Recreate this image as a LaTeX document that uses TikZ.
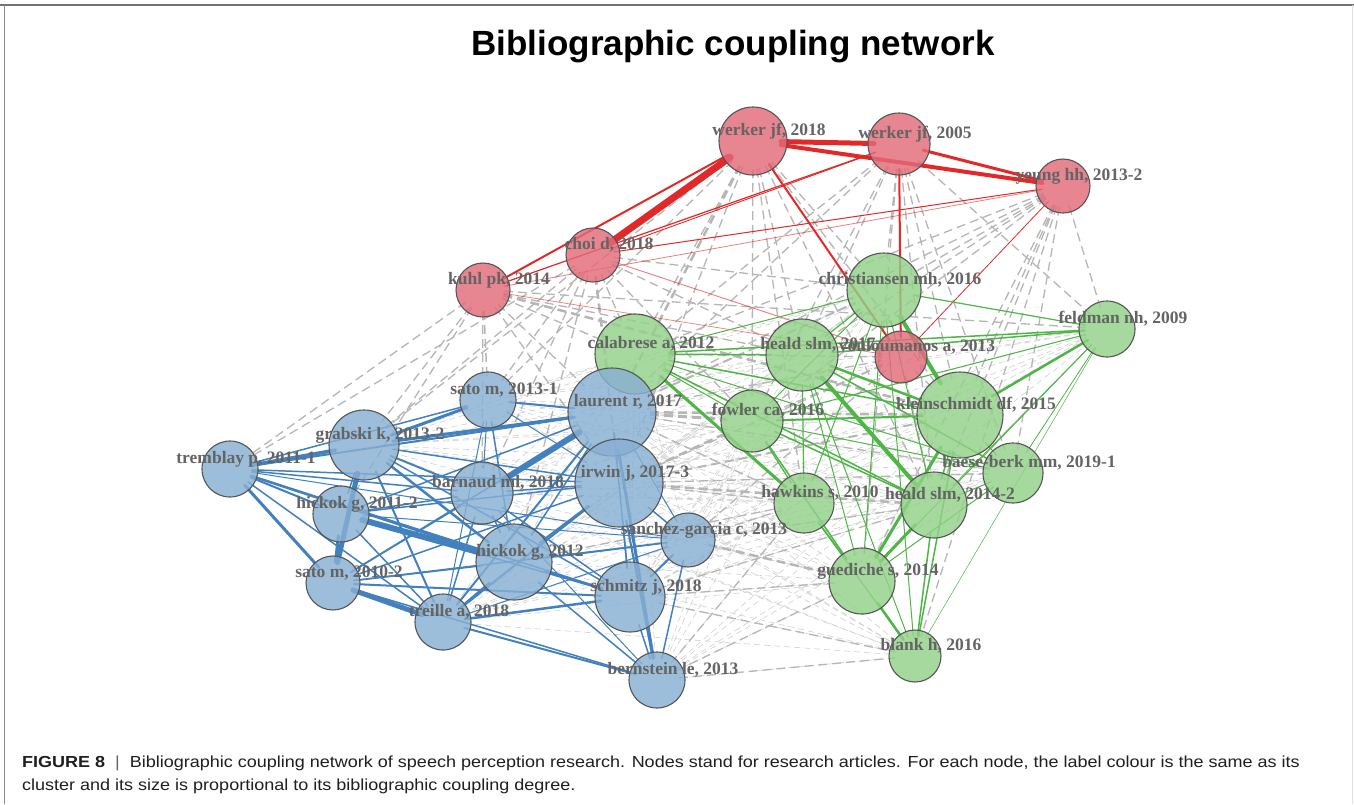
\documentclass[tikz,border=0pt]{standalone}
\usepackage{fontspec}
\setmainfont{Liberation Serif}
\newfontfamily\sansf{Liberation Sans}
\pgfdeclarelayer{bg}
\pgfdeclarelayer{edges}
\pgfdeclarelayer{labels}
\pgfsetlayers{bg,edges,main,labels}
\definecolor{redN}{RGB}{226,107,121}
\definecolor{greenN}{RGB}{146,209,136}
\definecolor{blueN}{RGB}{136,176,211}
\definecolor{redE}{RGB}{226,40,40}
\definecolor{greenE}{RGB}{78,182,70}
\definecolor{blueE}{RGB}{66,128,190}
\definecolor{greyE}{RGB}{182,182,182}
\definecolor{greyL}{RGB}{208,208,208}
\definecolor{labgrey}{RGB}{100,100,100}
\definecolor{border}{RGB}{85,85,85}
\tikzset{
  nodeC/.style={circle, draw=border, line width=1.1pt, fill opacity=0.82, inner sep=0pt, outer sep=0pt},
  lab/.style={text=labgrey, inner sep=0pt, font=\bfseries\fontsize{17.5}{18}\selectfont},
  edgebase/.style={shorten <=-6pt, shorten >=-6pt},
  redline/.style={edgebase, draw=redE, line cap=round},
  greenline/.style={edgebase, draw=greenE, line cap=round},
  blueline/.style={edgebase, draw=blueE, line cap=round},
  gdash/.style={edgebase, draw=greyE, dash pattern=on 9pt off 5pt},
  gthin/.style={edgebase, draw=greyL, dash pattern=on 6pt off 4pt},
  captext/.style={anchor=base west, inner sep=0pt, text=black!88, font=\sansf\fontsize{16}{20}\selectfont},
}
\newcommand\gnode[6]{%
  \node[nodeC, fill=#2, minimum size={#5*2pt}] (#1) at (#3,#4) {};
  \begin{pgfonlayer}{labels}
  \node[lab] (#1-t) at ([shift={(16,-10)}]#1.center) {#6};
  \end{pgfonlayer}}
\newcommand\edgeset[2]{%
  \begin{pgfonlayer}{edges}
  \foreach \a/\b/\w in {#2} {\draw[#1, line width=\w pt] (\a) -- (\b);}
  \end{pgfonlayer}}
\begin{document}
\begin{tikzpicture}[x=1pt,y=-1pt]
\useasboundingbox (0,0) rectangle (1354,804);
\begin{pgfonlayer}{bg}
\fill[white] (0,0) rectangle (1354,804);
\end{pgfonlayer}
% frame
\coordinate (f1) at (0,5); \coordinate (f2) at (1354,5);
\coordinate (f3) at (4,5); \coordinate (f4) at (4,804);
\coordinate (f5) at (1352,5); \coordinate (f6) at (1352,804);
\draw[draw=black!55, line width=1.2pt] (f1) -- (f2);
\draw[draw=black!45, line width=1pt] (f3) -- (f4);
\draw[draw=black!12, line width=1pt] (f5) -- (f6);
% title
\node[anchor=base, font=\sansf\bfseries\fontsize{35}{40}\selectfont] (title) at (733,55) {Bibliographic coupling network};
% red
\gnode{w18}{redN}{753}{141}{34}{werker jf, 2018}
\gnode{w05}{redN}{899}{144}{31}{werker jf, 2005}
\gnode{yh}{redN}{1063}{186}{27}{yeung hh, 2013-2}
\gnode{cd}{redN}{593}{255}{27}{choi d, 2018}
\gnode{kp}{redN}{483}{290}{27}{kuhl pk, 2014}
% green
\gnode{cmh}{greenN}{884}{290}{37}{christiansen mh, 2016}
\gnode{ca}{greenN}{635}{354}{40}{calabrese a, 2012}
\gnode{hs17}{greenN}{802}{355}{36}{heald slm, 2017}
\gnode{fnh}{greenN}{1107}{329}{28}{feldman nh, 2009}
\gnode{va}{redN}{901}{357}{26}{vouloumanos a, 2013}
\gnode{kdf}{greenN}{960}{415}{43}{kleinschmidt df, 2015}
\gnode{fca}{greenN}{752}{421}{31}{fowler ca, 2016}
\gnode{bb}{greenN}{1013}{473}{30}{baese-berk mm, 2019-1}
\gnode{hk}{greenN}{804}{503}{30}{hawkins s, 2010}
\gnode{hs14}{greenN}{934}{505}{33}{heald slm, 2014-2}
\gnode{gs}{greenN}{862}{581}{33}{guediche s, 2014}
\gnode{bh}{greenN}{915}{656}{26}{blank h, 2016}
% blue
\gnode{tp}{blueN}{230}{469}{28}{tremblay p, 2011-1}
\gnode{gk}{blueN}{364}{445}{35}{grabski k, 2013-2}
\gnode{sm13}{blueN}{488}{400}{28}{sato m, 2013-1}
\gnode{lr}{blueN}{612}{412}{44}{laurent r, 2017}
\gnode{ij}{blueN}{619}{483}{44}{irwin j, 2017-3}
\gnode{bml}{blueN}{482}{493}{31}{barnaud ml, 2018}
\gnode{hg11}{blueN}{341}{514}{28}{hickok g, 2011-2}
\gnode{sgc}{blueN}{688}{540}{27}{sanchez-garcia c, 2013}
\gnode{hg12}{blueN}{514}{562}{38}{hickok g, 2012}
\gnode{sm10}{blueN}{333}{583}{27}{sato m, 2010-2}
\gnode{sj}{blueN}{630}{597}{35}{schmitz j, 2018}
\gnode{ta}{blueN}{443}{622}{28}{treille a, 2018}
\gnode{ble}{blueN}{657}{680}{28}{bernstein le, 2013}
% grey texture edges (blue-green)
\begin{pgfonlayer}{edges}
\foreach \a in {sm13,lr,ij,bml,sgc,hg12,sj,ta,ble,gk}
  \foreach \b in {ca,hs17,fca,kdf,bb,hk,hs14,gs,bh,cmh,fnh}
    {\draw[gthin, line width=0.6pt] (\a) -- (\b);}
\end{pgfonlayer}
% grey dashed edges
\edgeset{gdash}{kp/tp/1.3, kp/gk/1.3, kp/sm13/1.5, kp/lr/1.3, kp/hg11/1.3, kp/bml/1.3, kp/ca/1.3, kp/hs17/1.3, kp/fnh/1.3, kp/ij/1.3,
 cd/gk/1.3, cd/sm13/1.3, cd/bml/1.3, cd/ij/1.3, cd/hg12/1.3, cd/ca/1.3, cd/hs17/1.3, cd/fca/1.3, cd/cmh/1.3, cd/tp/1.3,
 w18/ca/1.3, w18/cmh/1.3, w18/hs17/1.3, w18/kdf/1.3, w18/fca/1.3, w18/ij/1.3, w18/sm13/1.3, w18/hs14/1.3, w18/hk/1.3, w18/gk/1.3,
 w05/ca/1.3, w05/hs17/1.3, w05/kdf/1.3, w05/fnh/1.3, w05/fca/1.3, w05/lr/1.3, w05/bb/1.3, w05/hs14/1.3, w05/gs/1.3, w05/cmh/1.3,
 yh/fnh/1.3, yh/kdf/1.3, yh/bb/1.3, yh/hs17/1.3, yh/ca/1.3, yh/fca/1.3, yh/hs14/1.3, yh/cmh/1.3, yh/bh/1.3, yh/gs/1.3, yh/lr/1.3,
 va/lr/1.3, va/ij/1.3, va/fca/1.3, va/kdf/1.3, va/hs14/1.3, va/ca/1.3, va/sgc/1.3,
 ble/bh/1.3, ble/gs/1.3, ble/hk/1.3, sj/gs/1.3, sj/bh/1.3, sgc/hs14/1.3, sgc/hk/1.3, ij/hk/1.3, lr/hk/1.3, hg12/hk/1.3, ij/bb/1.3, lr/bb/1.3, sj/hs14/1.3,
 kp/kdf/2.5, cd/lr/2.5, w18/lr/2.5, lr/kdf/2.5, ij/hs14/2.5, lr/fca/3, ij/fca/2.5, sgc/gs/2.5, lr/cmh/2, ij/kdf/2}
% red edges
\edgeset{redline}{w18/w05/5, w18/yh/4, w05/yh/3, w18/cd/7, w18/kp/2, w05/kp/1.2, w05/cd/0.9, cd/yh/1, w18/va/2, w05/va/2, yh/va/0.8}
\edgeset{redline, draw opacity=0.6}{kp/yh/0.8, cd/va/0.9, kp/va/0.7}
% green edges
\edgeset{greenline}{cmh/kdf/4, hs17/hs14/4, kdf/gs/3, hs14/gs/3, kdf/fnh/2.5, gs/bh/2.5, ca/hk/3, hs17/kdf/2.5, fca/kdf/2,
 ca/fnh/1.5, hs17/fnh/1.5, cmh/fnh/1.2, fca/fnh/1, bb/fnh/0.8, hs14/fnh/0.8, bh/fnh/0.5, fnh/gs/0.8,
 ca/kdf/1.5, ca/hs14/1.5, ca/hs17/1.5, ca/cmh/1, ca/bb/1, ca/fca/1, fca/bb/1, fca/hs14/1.5, fca/gs/1.5,
 hs17/bb/1.5, hs17/gs/1, hs17/bh/1, hs17/hk/1.2, cmh/fca/1, cmh/hs17/1.2, cmh/hk/1, cmh/gs/1, cmh/bh/1,
 kdf/bh/1.5, hs14/bh/1.5, bb/hs14/1, bb/gs/1, hk/gs/1.5, hk/bh/1, kdf/hs14/1.5, fca/hk/1.2, kdf/bb/1, cmh/hs14/1}
% blue edges
\edgeset{blueline}{tp/gk/3.5, tp/sm13/1.5, tp/lr/2, tp/bml/1.5, tp/hg11/2, tp/hg12/2.5, tp/sm10/3, tp/ta/1.5, tp/sj/1.5, tp/ij/1.5, tp/sgc/1,
 gk/sm10/5, gk/lr/3, gk/sm13/3, gk/bml/2, gk/hg12/2.5, gk/ta/2, gk/sj/1.5, gk/ij/1.5, gk/hg11/1.5,
 hg11/hg12/6, hg11/sm10/3, hg11/lr/1.5, hg11/ij/1.5, hg11/sj/1.5, hg11/bml/1.5, hg11/ta/1.5, hg11/sgc/1,
 sm10/ta/5, sm10/sj/2, sm10/ij/1.5, sm10/sgc/1.5, sm10/bml/1.5, sm10/lr/1.5, sm10/ble/1.5, sm10/hg12/1.5,
 bml/lr/6, bml/ij/1.5, bml/sj/1.5, bml/ble/1, bml/hg12/1.5, bml/ta/1.5, bml/sm13/1,
 lr/ij/2, lr/ble/3, lr/ta/2, lr/hg12/1.5, lr/sgc/1, lr/sm13/2, lr/sj/1.5,
 ij/ble/2, ij/ta/2, ij/hg12/2, ij/sgc/1.5, ij/sm13/1, ij/sj/1.5,
 hg12/sj/2, hg12/sgc/1.5, hg12/sm13/1.5, hg12/ble/1.5, hg12/ta/2,
 ta/sj/2.5, ta/ble/2, ta/sm13/1, ta/sgc/1, sj/ble/1.5, sgc/ble/1.5, sgc/sj/2}
% caption
\node[captext] (cap1) at (22,767)
 {\scalebox{1.125}[1]{\textbf{FIGURE 8}\ \ {\color{black!60}|}\ \ Bibliographic coupling network of speech perception research. Nodes stand for research articles. For each node, the label colour is the same as its}};
\node[captext] (cap2) at (22,790)
 {\scalebox{1.125}[1]{cluster and its size is proportional to its bibliographic coupling degree.}};
\end{tikzpicture}
\end{document}
